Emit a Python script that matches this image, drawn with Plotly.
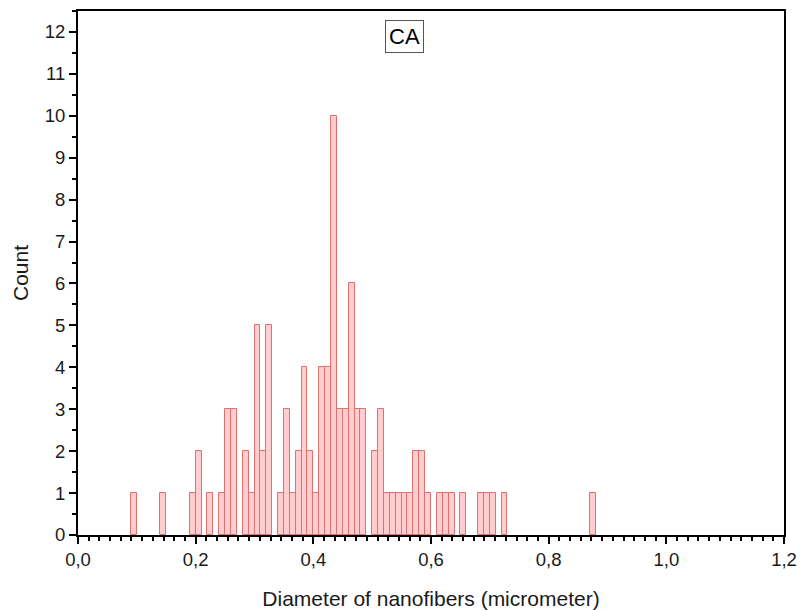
import plotly.graph_objects as go

# Histogram data: bin index (left edge in units of bin width) and counts
bin_width = 0.01
bin_index = [9, 14, 19, 20, 22, 24, 25, 26, 28, 29, 30, 31, 32, 34, 35, 36, 37, 38,
             39, 40, 41, 42, 43, 44, 45, 46, 47, 48, 50, 51, 52, 53, 54, 55, 56, 57,
             58, 59, 61, 62, 63, 65, 68, 69, 70, 72, 87]
counts = [1, 1, 1, 2, 1, 1, 3, 3, 2, 1, 5, 2, 5, 1, 3, 1, 2, 4,
          2, 1, 4, 4, 10, 3, 3, 6, 3, 3, 2, 3, 1, 1, 1, 1, 1, 2,
          2, 1, 1, 1, 1, 1, 1, 1, 1, 1, 1]

x_tick_vals = [0.0, 0.2, 0.4, 0.6, 0.8, 1.0, 1.2]
x_tick_text = ["0,0", "0,2", "0,4", "0,6", "0,8", "1,0", "1,2"]
y_tick_vals = list(range(0, 13))

centers = [(i + 0.5) * bin_width for i in bin_index]

fig = go.Figure()
fig.add_trace(go.Bar(
    x=centers, y=counts, width=bin_width,
    marker=dict(color="#FFCDCD", line=dict(color="#DE7070", width=1)),
    showlegend=False,
))

font_family = "Liberation Sans, Arial, sans-serif"

fig.update_layout(
    width=800, height=610,
    margin=dict(l=78, r=16, t=11, b=75),
    paper_bgcolor="white", plot_bgcolor="white",
    bargap=0,
    font=dict(family=font_family, color="#1a1a1a"),
    xaxis=dict(
        range=[0, 1.2], automargin=False,
        tickvals=x_tick_vals, ticktext=x_tick_text,
        ticks="outside", ticklen=7, tickwidth=2, tickcolor="black",
        showline=True, linecolor="black", linewidth=2, mirror=True,
        showgrid=False, zeroline=False,
        tickfont=dict(size=18.5, family=font_family),
        title=dict(text="Diameter of nanofibers (micrometer)",
                   font=dict(size=21, family=font_family), standoff=22),
        minor=dict(dtick=0.2 / 11, tick0=0, ticks="outside", ticklen=4,
                   tickwidth=1.5, tickcolor="black", showgrid=False),
    ),
    yaxis=dict(
        range=[0, 12.5], automargin=False,
        tickvals=y_tick_vals,
        ticks="outside", ticklen=7, tickwidth=2, tickcolor="black",
        showline=True, linecolor="black", linewidth=2, mirror=True,
        showgrid=False, zeroline=False,
        tickfont=dict(size=18.5, family=font_family),
        title=dict(text="Count", font=dict(size=21, family=font_family), standoff=10),
        minor=dict(dtick=0.5, tick0=0, ticks="outside", ticklen=4,
                   tickwidth=1.5, tickcolor="black", showgrid=False),
    ),
    annotations=[dict(
        text="CA", x=0.463, y=1.0, xref="paper", yref="paper",
        xanchor="center", yanchor="top", yshift=-9, showarrow=False,
        font=dict(size=22, family=font_family, color="black"),
        bordercolor="#555555", borderwidth=1, borderpad=3, bgcolor="white",
    )],
)

fig.write_html("out.html")
